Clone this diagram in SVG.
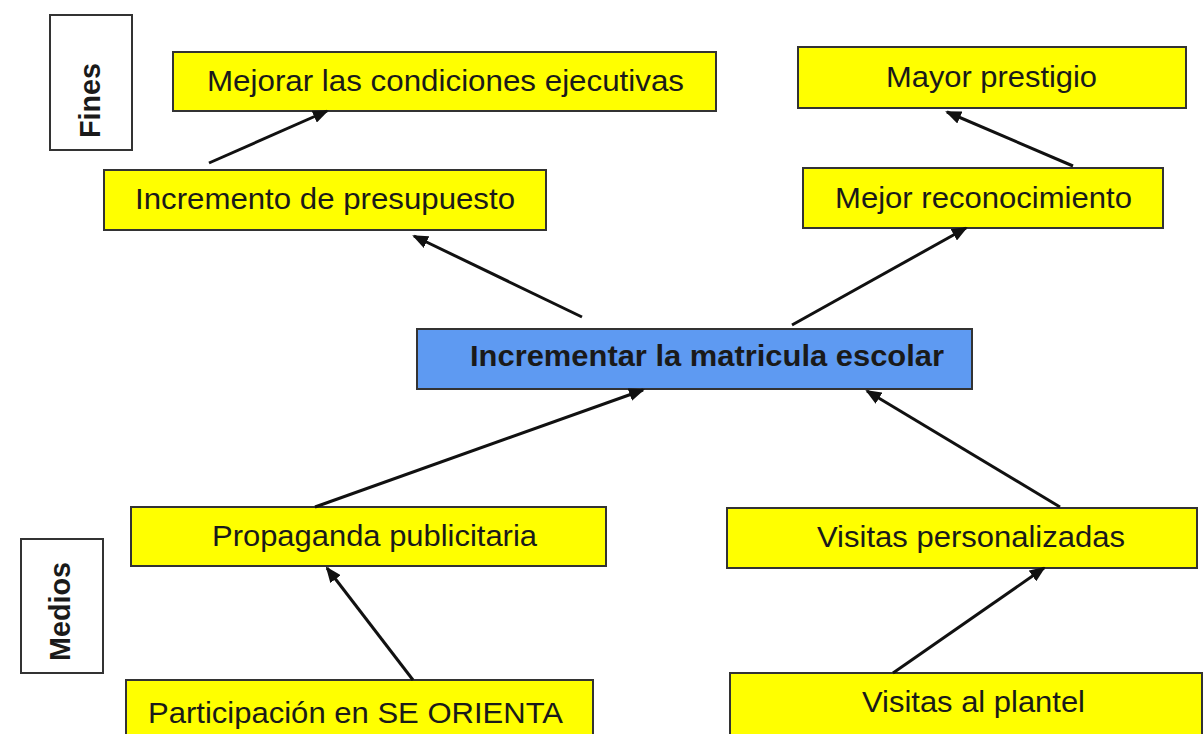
<svg xmlns="http://www.w3.org/2000/svg" width="1204" height="734" viewBox="0 0 1204 734">
<defs>
<style>
.box{fill:#FFFF00;stroke:#333;stroke-width:2}
.main{fill:#5E9AF2;stroke:#333;stroke-width:2}
.lab{fill:#fff;stroke:#333;stroke-width:2}
.t{font-family:"Liberation Sans",Arial,sans-serif;font-size:30px;fill:#1a1a1a}
.b{font-weight:bold}
.c{stroke:#111;stroke-width:3;fill:none;marker-end:url(#ah)}
</style>
<marker id="ah" markerWidth="16" markerHeight="13" refX="14" refY="6.5" orient="auto" markerUnits="userSpaceOnUse" viewBox="0 0 16 13">
<path d="M0,0 L16,6.5 L0,13 Z" fill="#111"/>
</marker>
</defs>
<rect width="1204" height="734" fill="#fff"/>
<g id="fines"><rect class="lab" x="50" y="15" width="82" height="135"/><text class="t b" font-size="32" transform="translate(100,138) rotate(-90)" textLength="75" lengthAdjust="spacingAndGlyphs">Fines</text></g>
<g id="medios"><rect class="lab" x="21" y="539" width="82" height="134"/><text class="t b" font-size="32" transform="translate(70,661) rotate(-90)" textLength="99" lengthAdjust="spacingAndGlyphs">Medios</text></g>
<g id="mejorar"><rect class="box" x="173" y="52" width="543" height="59"/><text class="t" x="207" y="91" textLength="477" lengthAdjust="spacingAndGlyphs">Mejorar las condiciones ejecutivas</text></g>
<g id="incremento"><rect class="box" x="104" y="170" width="442" height="60"/><text class="t" x="135" y="209" textLength="380" lengthAdjust="spacingAndGlyphs">Incremento de presupuesto</text></g>
<g id="prestigio"><rect class="box" x="798" y="47" width="388" height="61"/><text class="t" x="886" y="87" textLength="211" lengthAdjust="spacingAndGlyphs">Mayor prestigio</text></g>
<g id="reconocimiento"><rect class="box" x="803" y="168" width="360" height="60"/><text class="t" x="835" y="208" textLength="297" lengthAdjust="spacingAndGlyphs">Mejor reconocimiento</text></g>
<g id="matricula"><rect class="main" x="417" y="329" width="555" height="60"/><text class="t b" font-size="23" x="470" y="366" textLength="474" lengthAdjust="spacingAndGlyphs">Incrementar la matricula escolar</text></g>
<g id="propaganda"><rect class="box" x="131" y="507" width="475" height="59"/><text class="t" x="212" y="546" textLength="325" lengthAdjust="spacingAndGlyphs">Propaganda publicitaria</text></g>
<g id="visitas-pers"><rect class="box" x="727" y="508" width="470" height="60"/><text class="t" x="817" y="547" textLength="308" lengthAdjust="spacingAndGlyphs">Visitas personalizadas</text></g>
<g id="participacion"><rect class="box" x="126" y="680" width="467" height="60"/><text class="t" x="148" y="723" textLength="415" lengthAdjust="spacingAndGlyphs">Participación en SE ORIENTA</text></g>
<g id="plantel"><rect class="box" x="730" y="673" width="472" height="65"/><text class="t" x="862" y="712" textLength="223" lengthAdjust="spacingAndGlyphs">Visitas al plantel</text></g>
<g id="connectors">
<line class="c" x1="209" y1="163" x2="327" y2="111"/>
<line class="c" x1="582" y1="317" x2="414" y2="236"/>
<line class="c" x1="1073" y1="166" x2="947" y2="112"/>
<line class="c" x1="792" y1="325" x2="966" y2="228"/>
<line class="c" x1="315" y1="507" x2="643" y2="390"/>
<line class="c" x1="1060" y1="507" x2="867" y2="391"/>
<line class="c" x1="413" y1="680" x2="327" y2="568"/>
<line class="c" x1="893" y1="673" x2="1044" y2="568"/>
</g>
</svg>
